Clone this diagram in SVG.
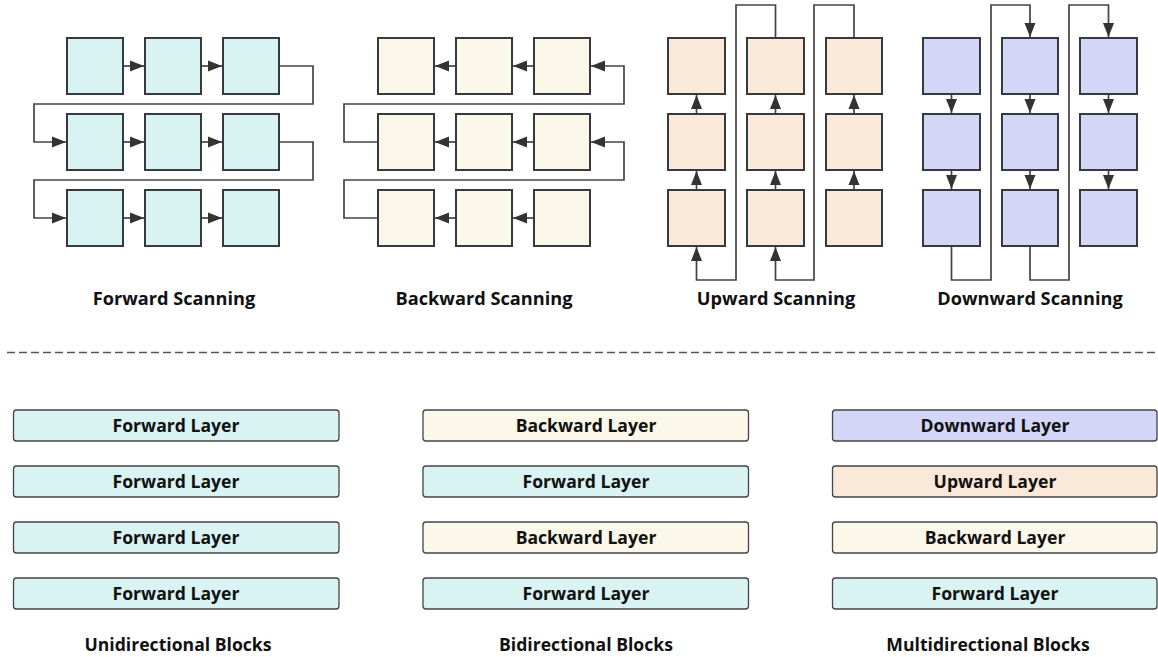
<svg xmlns="http://www.w3.org/2000/svg" width="1158" height="657" viewBox="0 0 1158 657">
<style>
.bx{stroke:#363b42;stroke-width:2}
.c{fill:#d9f3f3}.y{fill:#fbf8ea}.p{fill:#fae8d8}.v{fill:#d3d6f7}
.ln{fill:none;stroke:#444;stroke-width:1.7}
.t{font-family:"Open Sans","Noto Sans",sans-serif;font-weight:700;font-size:17.6px;fill:#111;text-anchor:middle}
.h{font-size:18.2px}
.ly{stroke:#444;stroke-width:1.3}
</style>
<defs>
<marker id="ah" markerUnits="userSpaceOnUse" markerWidth="15" markerHeight="13" refX="14" refY="6" orient="auto">
<path d="M0,0.5 L14,6 L0,11.5 Z" fill="#333"/>
</marker>
</defs>
<rect width="1158" height="657" fill="#fff"/>

<g id="forward-scanning">
<rect class="bx c" x="67" y="38" width="56" height="56"/><rect class="bx c" x="145" y="38" width="56" height="56"/><rect class="bx c" x="223" y="38" width="56" height="56"/>
<rect class="bx c" x="67" y="114" width="56" height="56"/><rect class="bx c" x="145" y="114" width="56" height="56"/><rect class="bx c" x="223" y="114" width="56" height="56"/>
<rect class="bx c" x="67" y="190" width="56" height="56"/><rect class="bx c" x="145" y="190" width="56" height="56"/><rect class="bx c" x="223" y="190" width="56" height="56"/>
</g>
<g id="backward-scanning">
<rect class="bx y" x="378" y="38" width="56" height="56"/><rect class="bx y" x="456" y="38" width="56" height="56"/><rect class="bx y" x="534" y="38" width="56" height="56"/>
<rect class="bx y" x="378" y="114" width="56" height="56"/><rect class="bx y" x="456" y="114" width="56" height="56"/><rect class="bx y" x="534" y="114" width="56" height="56"/>
<rect class="bx y" x="378" y="190" width="56" height="56"/><rect class="bx y" x="456" y="190" width="56" height="56"/><rect class="bx y" x="534" y="190" width="56" height="56"/>
</g>
<g id="upward-scanning">
<rect class="bx p" x="668" y="38" width="57" height="56"/><rect class="bx p" x="747" y="38" width="57" height="56"/><rect class="bx p" x="826" y="38" width="56" height="56"/>
<rect class="bx p" x="668" y="114" width="57" height="56"/><rect class="bx p" x="747" y="114" width="57" height="56"/><rect class="bx p" x="826" y="114" width="56" height="56"/>
<rect class="bx p" x="668" y="190" width="57" height="56"/><rect class="bx p" x="747" y="190" width="57" height="56"/><rect class="bx p" x="826" y="190" width="56" height="56"/>
</g>
<g id="downward-scanning">
<rect class="bx v" x="923" y="38" width="57" height="56"/><rect class="bx v" x="1002" y="38" width="56" height="56"/><rect class="bx v" x="1080" y="38" width="57" height="56"/>
<rect class="bx v" x="923" y="114" width="57" height="56"/><rect class="bx v" x="1002" y="114" width="56" height="56"/><rect class="bx v" x="1080" y="114" width="57" height="56"/>
<rect class="bx v" x="923" y="190" width="57" height="56"/><rect class="bx v" x="1002" y="190" width="56" height="56"/><rect class="bx v" x="1080" y="190" width="57" height="56"/>
</g>

<g id="connectors">
<path class="ln" marker-end="url(#ah)" d="M124,66 H144"/>
<path class="ln" marker-end="url(#ah)" d="M202,66 H222"/>
<path class="ln" marker-end="url(#ah)" d="M124,142 H144"/>
<path class="ln" marker-end="url(#ah)" d="M202,142 H222"/>
<path class="ln" marker-end="url(#ah)" d="M124,218 H144"/>
<path class="ln" marker-end="url(#ah)" d="M202,218 H222"/>
<path class="ln" marker-end="url(#ah)" d="M280,66 H313 V104 H34 V142 H66"/>
<path class="ln" marker-end="url(#ah)" d="M280,142 H313 V180 H34 V218 H66"/>

<path class="ln" marker-end="url(#ah)" d="M455,66 H435"/>
<path class="ln" marker-end="url(#ah)" d="M533,66 H513"/>
<path class="ln" marker-end="url(#ah)" d="M455,142 H435"/>
<path class="ln" marker-end="url(#ah)" d="M533,142 H513"/>
<path class="ln" marker-end="url(#ah)" d="M455,218 H435"/>
<path class="ln" marker-end="url(#ah)" d="M533,218 H513"/>
<path class="ln" marker-end="url(#ah)" d="M377,142 H344 V104 H624 V66 H591"/>
<path class="ln" marker-end="url(#ah)" d="M377,218 H344 V180 H624 V142 H591"/>

<path class="ln" marker-end="url(#ah)" d="M696.5,113 V95"/>
<path class="ln" marker-end="url(#ah)" d="M696.5,189 V171"/>
<path class="ln" marker-end="url(#ah)" d="M775.5,113 V95"/>
<path class="ln" marker-end="url(#ah)" d="M775.5,189 V171"/>
<path class="ln" marker-end="url(#ah)" d="M854,113 V95"/>
<path class="ln" marker-end="url(#ah)" d="M854,189 V171"/>
<path class="ln" marker-end="url(#ah)" d="M775.5,37 V5 H736 V280 H696.5 V247"/>
<path class="ln" marker-end="url(#ah)" d="M854,37 V5 H814 V280 H775.5 V247"/>

<path class="ln" marker-end="url(#ah)" d="M951.5,95 V113"/>
<path class="ln" marker-end="url(#ah)" d="M951.5,171 V189"/>
<path class="ln" marker-end="url(#ah)" d="M1030,95 V113"/>
<path class="ln" marker-end="url(#ah)" d="M1030,171 V189"/>
<path class="ln" marker-end="url(#ah)" d="M1108.5,95 V113"/>
<path class="ln" marker-end="url(#ah)" d="M1108.5,171 V189"/>
<path class="ln" marker-end="url(#ah)" d="M951.5,247 V280 H991 V5 H1030 V37"/>
<path class="ln" marker-end="url(#ah)" d="M1030,247 V280 H1069 V5 H1108.5 V37"/>
</g>

<g id="scan-titles">
<text class="t h" x="174" y="305">Forward Scanning</text>
<text class="t h" x="484" y="305">Backward Scanning</text>
<text class="t h" x="776" y="305">Upward Scanning</text>
<text class="t h" x="1030" y="305">Downward Scanning</text>
</g>

<line id="divider" x1="7" y1="352.5" x2="1158" y2="352.5" stroke="#555" stroke-width="1.5" stroke-dasharray="8,4"/>

<g id="unidirectional">
<rect class="ly c" x="13.5" y="410" width="325.5" height="31" rx="3"/><text class="t" x="176" y="432">Forward Layer</text>
<rect class="ly c" x="13.5" y="466" width="325.5" height="31" rx="3"/><text class="t" x="176" y="488">Forward Layer</text>
<rect class="ly c" x="13.5" y="522" width="325.5" height="31" rx="3"/><text class="t" x="176" y="544">Forward Layer</text>
<rect class="ly c" x="13.5" y="578" width="325.5" height="31" rx="3"/><text class="t" x="176" y="600">Forward Layer</text>
<text class="t" x="178" y="651">Unidirectional Blocks</text>
</g>
<g id="bidirectional">
<rect class="ly y" x="423" y="410" width="325.5" height="31" rx="3"/><text class="t" x="586" y="432">Backward Layer</text>
<rect class="ly c" x="423" y="466" width="325.5" height="31" rx="3"/><text class="t" x="586" y="488">Forward Layer</text>
<rect class="ly y" x="423" y="522" width="325.5" height="31" rx="3"/><text class="t" x="586" y="544">Backward Layer</text>
<rect class="ly c" x="423" y="578" width="325.5" height="31" rx="3"/><text class="t" x="586" y="600">Forward Layer</text>
<text class="t" x="586" y="651">Bidirectional Blocks</text>
</g>
<g id="multidirectional">
<rect class="ly v" x="832.5" y="410" width="324.5" height="31" rx="3"/><text class="t" x="995" y="432">Downward Layer</text>
<rect class="ly p" x="832.5" y="466" width="324.5" height="31" rx="3"/><text class="t" x="995" y="488">Upward Layer</text>
<rect class="ly y" x="832.5" y="522" width="324.5" height="31" rx="3"/><text class="t" x="995" y="544">Backward Layer</text>
<rect class="ly c" x="832.5" y="578" width="324.5" height="31" rx="3"/><text class="t" x="995" y="600">Forward Layer</text>
<text class="t" x="988" y="651">Multidirectional Blocks</text>
</g>
</svg>
